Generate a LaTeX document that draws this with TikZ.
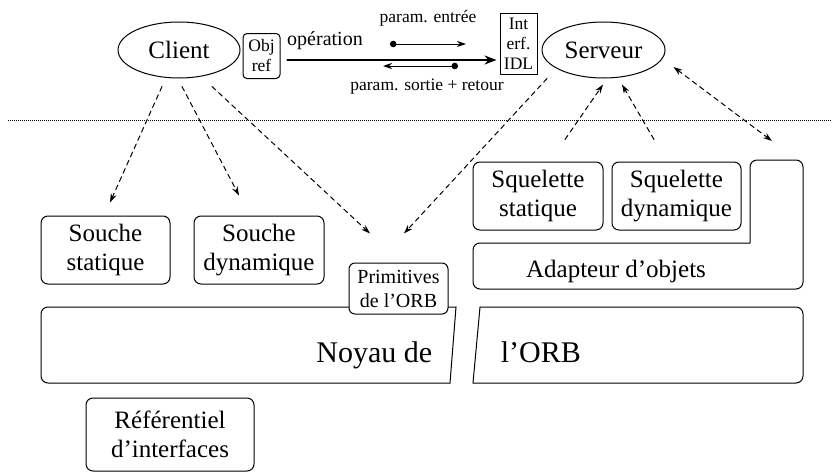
\documentclass[tikz,border=0pt]{standalone}
\usepackage{fontspec}
\setmainfont{Liberation Serif}
\usetikzlibrary{arrows.meta,shapes.geometric,calc}

\begin{document}
\begin{tikzpicture}[x=1pt,y=-1pt,line width=1pt,line cap=round,line join=round,
  fbig/.style={font=\fontsize{25}{29}\selectfont},
  fhuge/.style={font=\fontsize{30}{34}\selectfont},
  fmid/.style={font=\fontsize{20}{24}\selectfont},
  fsmall/.style={font=\fontsize{17.5}{20}\selectfont},
  rbox/.style={draw,rounded corners=7pt,align=center,inner sep=0pt},
  oval/.style={draw,ellipse,inner sep=0pt,minimum width=122pt,minimum height=56pt,fbig},
  dasharrow/.style={dash pattern=on 5pt off 4pt,-{Stealth[length=9pt,width=6pt]}},
  dasharrows/.style={dash pattern=on 5pt off 4pt,{Stealth[length=9pt,width=6pt]}-{Stealth[length=9pt,width=6pt]}},
  dotarrow/.style={{Circle[length=6.5pt]}-{Stealth[length=9pt,width=6pt]}},
  bigarrow/.style={line width=2.5pt,-{Stealth[length=12pt,width=9pt]}}]
\useasboundingbox (0,0) rectangle (832,474);

% --- upper part: client, server and the invocation ---
\node[oval] (client) at (179,50) {Client};
\node[oval,minimum width=123pt] (serveur) at (603.5,50) {Serveur};
\node[rbox,fsmall,rounded corners=4pt,minimum width=37pt,minimum height=45pt] (objref) at (261.5,56) {Obj\\ref};
\node[draw,fsmall,align=center,inner sep=0pt,minimum width=37pt,minimum height=61pt] (idl) at (518.5,43.5) {Int\\erf.\\IDL};

\coordinate (op-start) at ($(objref.east)+(7,4)$);
\draw[bigarrow,shorten >=3pt] (op-start) -- (op-start -| idl.west);
\node[fmid,anchor=base] (op) at (325,45) {opération};

\coordinate (in-a) at (390,44);
\coordinate (in-b) at (466,44);
\coordinate (out-a) at (458,66);
\coordinate (out-b) at (383,66);
\draw[dotarrow] (in-a) -- (in-b);
\draw[dotarrow] (out-a) -- (out-b);
\node[fsmall,anchor=base] (pin) at (428,22) {param. entrée};
\node[fsmall,anchor=base] (pout) at (427,90) {param. sortie + retour};

% --- separator ---
\coordinate (sep-l) at (8,120);
\coordinate (sep-r) at (832,120);
\draw[line width=0.8pt,dash pattern=on 1pt off 1pt,line cap=butt] (sep-l) -- (sep-r);

% --- client side ---
\node[rbox,fbig,minimum width=129pt,minimum height=68pt] (ss) at (105.5,250) {Souche\\statique};
\node[rbox,fbig,minimum width=130pt,minimum height=68pt] (sd) at (259,250) {Souche\\dynamique};

% --- ORB core, split in two halves ---
\draw[rounded corners=7pt] (456,307) -- (41,307) -- (41,383) -- (450,383);
\draw (450,383) -- (456,307);
\draw[rounded corners=7pt] (480,307) -- (803,307) -- (803,383) -- (473,383);
\draw (473,383) -- (480,307);
\node[fhuge,anchor=base east] (noyau) at (436,362) {Noyau de};
\node[fhuge,anchor=base west] (orb) at (497,362) {l’ORB};

\node[rbox,fmid,fill=white,rounded corners=6pt,minimum width=99pt,minimum height=51pt] (prim) at (398.5,288.5) {Primitives\\de l’ORB};

% --- server side ---
\node[rbox,fbig,minimum width=130pt,minimum height=68pt] (sks) at (538,196) {Squelette\\statique};
\node[rbox,fbig,minimum width=129pt,minimum height=68pt] (skd) at (676.5,196) {Squelette\\dynamique};
\draw[rounded corners=7pt] (750,243) -- (473,243) -- (473,289) -- (803,289) -- (803,160) -- (750,160) -- (750,243);
\coordinate (adtop) at (776.5,160);
\node[fbig,anchor=base] (adapt) at (616,277) {Adapteur d’objets};

% --- interface repository ---
\node[rbox,fbig,minimum width=168pt,minimum height=73pt] (repo) at (170,434.5) {Référentiel\\d’interfaces};

% --- dashed relations ---
\coordinate (cl-ss) at ($(client.south)+(-17,8)$);
\coordinate (cl-sd) at ($(client.south)+(3,8)$);
\coordinate (cl-pr) at ($(client.south)+(33,8)$);
\coordinate (ss-tip) at ($(ss.north)+(4.5,-13)$);
\coordinate (sd-tip) at ($(sd.north)+(-20,-20)$);
\coordinate (pr-tip1) at ($(prim.north)+(-28.5,-29)$);
\coordinate (pr-tip2) at ($(prim.north)+(5.5,-29)$);
\coordinate (sv-pr) at ($(serveur.south)+(-56.5,0)$);
\coordinate (sv-tip1) at ($(serveur.south)+(-0.5,6)$);
\coordinate (sv-tip2) at ($(serveur.south)+(18.5,6)$);
\coordinate (sks-top) at ($(sks.north)+(27,-22)$);
\coordinate (skd-top) at ($(skd.north)+(-22.5,-22)$);
\coordinate (sv-ad) at ($(serveur.east)+(8,17)$);
\coordinate (ad-tip) at ($(adtop)+(-4.5,-19)$);

\draw[dasharrow] (cl-ss) -- (ss-tip);
\draw[dasharrow] (cl-sd) -- (sd-tip);
\draw[dasharrow] (cl-pr) -- (pr-tip1);
\draw[dasharrow] (sv-pr) -- (pr-tip2);
\draw[dasharrow] (sks-top) -- (sv-tip1);
\draw[dasharrow] (skd-top) -- (sv-tip2);
\draw[dasharrows] (sv-ad) -- (ad-tip);
\end{tikzpicture}
\end{document}
